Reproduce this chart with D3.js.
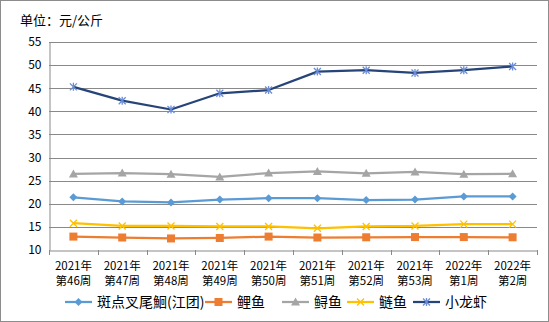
<!DOCTYPE html>
<html><head><meta charset="utf-8">
<script src="https://cdn.jsdelivr.net/npm/d3@7"></script>
<style>body{margin:0;background:#fff}svg{display:block}text{font-family:"Noto Sans CJK SC","DejaVu Sans",sans-serif}</style>
</head><body><svg id="c" width="549" height="322"></svg>
<script>
const weeks = ["2021年|第46周","2021年|第47周","2021年|第48周","2021年|第49周","2021年|第50周","2021年|第51周","2021年|第52周","2021年|第53周","2022年|第1周","2022年|第2周"];
const yTicks = [10,15,20,25,30,35,40,45,50,55];
const seriesNames = ["斑点叉尾鮰(江团)","鲤鱼","鲟鱼","鲢鱼","小龙虾"];
const banDian = [21.4,20.5,20.3,20.9,21.2,21.2,20.8,20.9,21.6,21.6];
const liYu = [12.9,12.7,12.5,12.6,12.9,12.7,12.75,12.8,12.8,12.75];
const xunYu = [26.45,26.65,26.4,25.8,26.65,27.0,26.6,26.9,26.4,26.5];
const lianYu = [15.8,15.2,15.2,15.1,15.1,14.7,15.1,15.2,15.6,15.6];
const xiaoLongXia = [45.3,42.3,40.4,43.9,44.6,48.6,48.9,48.3,48.9,49.7];
const seriesValues = [banDian, liYu, xunYu, lianYu, xiaoLongXia];
const colors = ["#5B9BD5","#ED7D31","#A5A5A5","#FFC000","#264478"];
const markerColors = ["#5B9BD5","#ED7D31","#A5A5A5","#FFC000","#6B8DD6"];
const markers = ["diamond","square","triangle","x","star"];

const svg = d3.select("#c");
svg.append("rect").attr("x",0.5).attr("y",0.5).attr("width",548).attr("height",321).attr("fill","#fff").attr("stroke","#8c8c8c");
svg.append("text").attr("x",20).attr("y",25).attr("font-size",13).attr("fill","#000").text("单位：元/公斤");

const L=49,R=537,T=42,B=250;
const x = d3.scaleBand().domain(weeks).range([L,R]);
const y = d3.scaleLinear().domain([10,55]).range([B,T]);

// grid
svg.append("g").selectAll("line").data(yTicks.filter(d=>d>10)).join("line")
  .attr("x1",L).attr("x2",R).attr("y1",d=>Math.round(y(d))+0.5).attr("y2",d=>Math.round(y(d))+0.5)
  .attr("stroke","#898989").attr("stroke-width",1);
// y axis
const ya = svg.append("g").attr("transform",`translate(${L+0.5},0)`).call(d3.axisLeft(y).tickValues(yTicks).tickSize(0).tickPadding(8));
ya.select(".domain").attr("stroke","#898989");
ya.selectAll("text").attr("font-size",12).attr("fill","#000").attr("font-family","Liberation Sans, Arial, sans-serif");
// x axis
const xa = svg.append("g").attr("transform",`translate(0,${Math.round(B)+0.5})`).call(d3.axisBottom(x).tickSize(0).tickFormat(""));
xa.select(".domain").attr("stroke","#898989");
const bounds = weeks.map(w=>x(w)).concat([R]);
svg.append("g").selectAll("line").data(bounds).join("line")
  .attr("x1",d=>Math.round(d)+0.5).attr("x2",d=>Math.round(d)+0.5).attr("y1",B).attr("y2",B+5).attr("stroke","#898989");
const xg = svg.append("g");
xg.selectAll("text.l1").data(weeks).join("text").attr("class","l1")
  .attr("x",d=>x(d)+x.bandwidth()/2).attr("y",269.5).attr("text-anchor","middle").attr("font-size",11.5).attr("fill","#000")
  .text(d=>d.split("|")[0]);
xg.selectAll("text.l2").data(weeks).join("text").attr("class","l2")
  .attr("x",d=>x(d)+x.bandwidth()/2).attr("y",285).attr("text-anchor","middle").attr("font-size",11.5).attr("fill","#000")
  .text(d=>d.split("|")[1]);

function drawMarker(g,type,cx,cy,col){
  if(type==="diamond"){
    g.append("path").attr("d",`M${cx},${cy-4}L${cx+4},${cy}L${cx},${cy+4}L${cx-4},${cy}Z`).attr("fill",col);
  }else if(type==="square"){
    g.append("rect").attr("x",cx-4).attr("y",cy-4).attr("width",8).attr("height",8).attr("fill",col);
  }else if(type==="triangle"){
    g.append("path").attr("d",`M${cx},${cy-4.5}L${cx+4.5},${cy+3.5}L${cx-4.5},${cy+3.5}Z`).attr("fill",col);
  }else if(type==="x"){
    g.append("path").attr("d",`M${cx-3.5},${cy-3.5}L${cx+3.5},${cy+3.5}M${cx+3.5},${cy-3.5}L${cx-3.5},${cy+3.5}`).attr("stroke",col).attr("stroke-width",1.3);
  }else{
    g.append("path").attr("d",`M${cx-3.5},${cy-3.5}L${cx+3.5},${cy+3.5}M${cx+3.5},${cy-3.5}L${cx-3.5},${cy+3.5}M${cx},${cy-4}L${cx},${cy+4}`).attr("stroke",col).attr("stroke-width",1.3);
  }
}

const line = d3.line().x((d,i)=>x(weeks[i])+x.bandwidth()/2).y(d=>y(d));
seriesValues.forEach((vals,si)=>{
  const g = svg.append("g");
  g.append("path").datum(vals).attr("d",line).attr("fill","none").attr("stroke",colors[si]).attr("stroke-width",2.25).attr("stroke-linejoin","round");
  vals.forEach((v,i)=>drawMarker(g,markers[si],x(weeks[i])+x.bandwidth()/2,y(v),markerColors[si]));
});

// legend
const legX = [65,205,282,347,413];
const lg = svg.append("g");
seriesNames.forEach((n,i)=>{
  const cy=302;
  lg.append("line").attr("x1",legX[i]).attr("x2",legX[i]+27).attr("y1",cy).attr("y2",cy).attr("stroke",colors[i]).attr("stroke-width",2.25);
  drawMarker(lg,markers[i],legX[i]+13.5,cy,markerColors[i]);
  lg.append("text").attr("x",legX[i]+32).attr("y",cy+5).attr("font-size",14).attr("fill","#000").text(n);
});
</script></body></html>
